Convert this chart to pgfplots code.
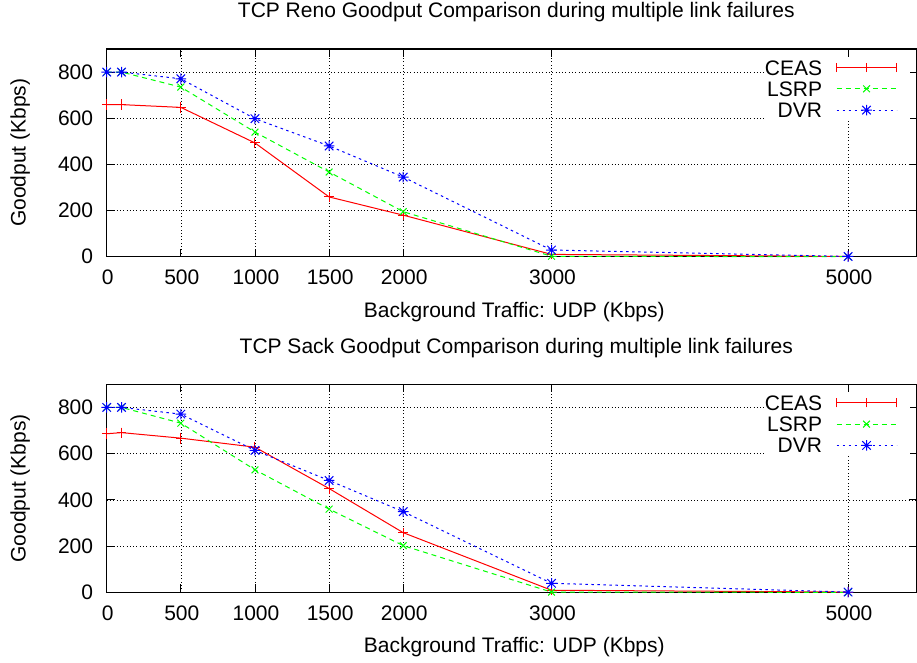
\documentclass[border=0pt]{standalone}
\usepackage{fontspec}
\setmainfont{Liberation Sans}
\usepackage{pgfplots}
\pgfplotsset{compat=1.18}

\definecolor{gpred}{RGB}{255,0,0}
\definecolor{gpgreen}{RGB}{0,255,0}
\definecolor{gpblue}{RGB}{0,0,255}

% gnuplot-style asterisk: a plus and a cross laid over each other
\pgfdeclareplotmark{gpstar}{%
  \pgfpathmoveto{\pgfqpoint{-\pgfplotmarksize}{0pt}}%
  \pgfpathlineto{\pgfqpoint{\pgfplotmarksize}{0pt}}%
  \pgfpathmoveto{\pgfqpoint{0pt}{-\pgfplotmarksize}}%
  \pgfpathlineto{\pgfqpoint{0pt}{\pgfplotmarksize}}%
  \pgfpathmoveto{\pgfqpoint{-0.8\pgfplotmarksize}{-0.8\pgfplotmarksize}}%
  \pgfpathlineto{\pgfqpoint{0.8\pgfplotmarksize}{0.8\pgfplotmarksize}}%
  \pgfpathmoveto{\pgfqpoint{-0.8\pgfplotmarksize}{0.8\pgfplotmarksize}}%
  \pgfpathlineto{\pgfqpoint{0.8\pgfplotmarksize}{-0.8\pgfplotmarksize}}%
  \pgfusepathqstroke}

\pgfplotsset{
  gpaxis/.style={
    scale only axis, width=810.3pt,
    xmin=0, xmax=5465, ymin=0, ymax=900,
    xtick={0,500,1000,1500,2000,3000,5000},
    ytick={0,200,400,600,800},
    tick pos=both, ticklabel pos=left,
    tick align=inside,
    major tick length=8pt,
    tick style={black, line width=0.8pt},
    axis line style={black, line width=1.3pt},
    grid=major,
    major grid style={black, line width=0.6pt, dash pattern=on 0.8pt off 2.5pt},
    /pgf/number format/assume math mode=true,
    /pgf/number format/1000 sep={},
    yticklabel style={anchor=east, inner sep=0pt, xshift=-13.4pt},
    xticklabel style={anchor=north, inner sep=0pt, yshift=-13.3pt, xshift=1pt},
    clip=false,
    legend plot pos=right,
    legend cell align=right,
    legend style={at={(rel axis cs:0.9914,0.9615)}, anchor=north east,
      draw=none, fill=white, inner xsep=0pt, inner ysep=3pt, outer sep=0pt,
      row sep=6.3pt, column sep=14pt,
      nodes={inner sep=0pt, text height=15pt, text depth=0pt}},
    title style={at={(rel axis cs:0.5055,1.1204)}, anchor=base, inner sep=0pt},
    xlabel style={at={(rel axis cs:0.503,-0.2903)}, anchor=base, inner sep=0pt},
    ylabel style={at={(rel axis cs:-0.1002,0.5)}, anchor=base, inner sep=0pt},
    xlabel={Background Traffic: UDP (Kbps)},
    ylabel={Goodput (Kbps)},
  },
  ceas/.style={gpred, line width=1pt, mark=+, mark size=4.8pt,
    error bars/y dir=both, error bars/y explicit,
    error bars/error mark=-,
    error bars/error bar style={gpred, line width=1pt},
    error bars/error mark options={gpred, mark size=4pt, line width=1pt}},
  lsrp/.style={gpgreen, line width=1pt, dash pattern=on 5pt off 4pt,
    mark=x, mark size=4.8pt, mark options={solid}},
  dvr/.style={gpblue, line width=1pt, dash pattern=on 2.5pt off 3.5pt,
    mark=gpstar, mark size=5.3pt, mark options={solid}},
  ceaslegend/.style={legend image code/.code={
    \draw[##1] (0pt,0pt) -- (60pt,0pt);
    \draw[##1] (0pt,-4.5pt) -- (0pt,4.5pt) (60pt,-4.5pt) -- (60pt,4.5pt)
               (30pt,-4.5pt) -- (30pt,4.5pt);
    \path (73pt,0pt);}},
  marklegend/.style={legend image code/.code={
    \draw[##1] (0pt,0pt) -- (60pt,0pt);
    \draw[##1] plot coordinates {(30pt,0pt)};
    \path (73pt,0pt);}},
}

\begin{document}
\fontsize{21}{25}\selectfont
\begin{tikzpicture}
\useasboundingbox (0pt,0pt) rectangle (917pt,-662pt);

% TCP Reno
\begin{axis}[gpaxis, at={(106.7pt,-256.7pt)}, anchor=south west, height=207.7pt,
  title={TCP Reno Goodput Comparison during multiple link failures}]
\addplot[ceas, ceaslegend] coordinates {
  (0,659) +- (0,7)  (100,659) +- (0,5)  (500,647) +- (0,5)  (1000,493) +- (0,5)
  (1500,259) +- (0,5)  (2000,180) +- (0,4)  (3000,10) +- (0,2)  (5000,1) +- (0,0)};
\addlegendentry{CEAS}
\addplot[lsrp, marklegend] coordinates {
  (0,800) (100,800) (500,735) (1000,540) (1500,367) (2000,195) (3000,2) (5000,0)};
\addlegendentry{LSRP}
\addplot[dvr, marklegend] coordinates {
  (0,800) (100,800) (500,771) (1000,598) (1500,480) (2000,345) (3000,29) (5000,1)};
\addlegendentry{DVR}
\end{axis}

% TCP Sack
\begin{axis}[gpaxis, at={(106.7pt,-592.3pt)}, anchor=south west, height=208pt,
  title={TCP Sack Goodput Comparison during multiple link failures}]
\addplot[ceas, ceaslegend] coordinates {
  (0,686) +- (0,7)  (100,691) +- (0,4)  (500,667) +- (0,7)  (1000,628) +- (0,6)
  (1500,449) +- (0,7)  (2000,258) +- (0,3)  (3000,9) +- (0,1)  (5000,1) +- (0,0)};
\addlegendentry{CEAS}
\addplot[lsrp, marklegend] coordinates {
  (0,800) (100,800) (500,732) (1000,530) (1500,360) (2000,202) (3000,1) (5000,0)};
\addlegendentry{LSRP}
\addplot[dvr, marklegend] coordinates {
  (0,800) (100,800) (500,771) (1000,614) (1500,484) (2000,349) (3000,39) (5000,1)};
\addlegendentry{DVR}
\end{axis}
\end{tikzpicture}
\end{document}
